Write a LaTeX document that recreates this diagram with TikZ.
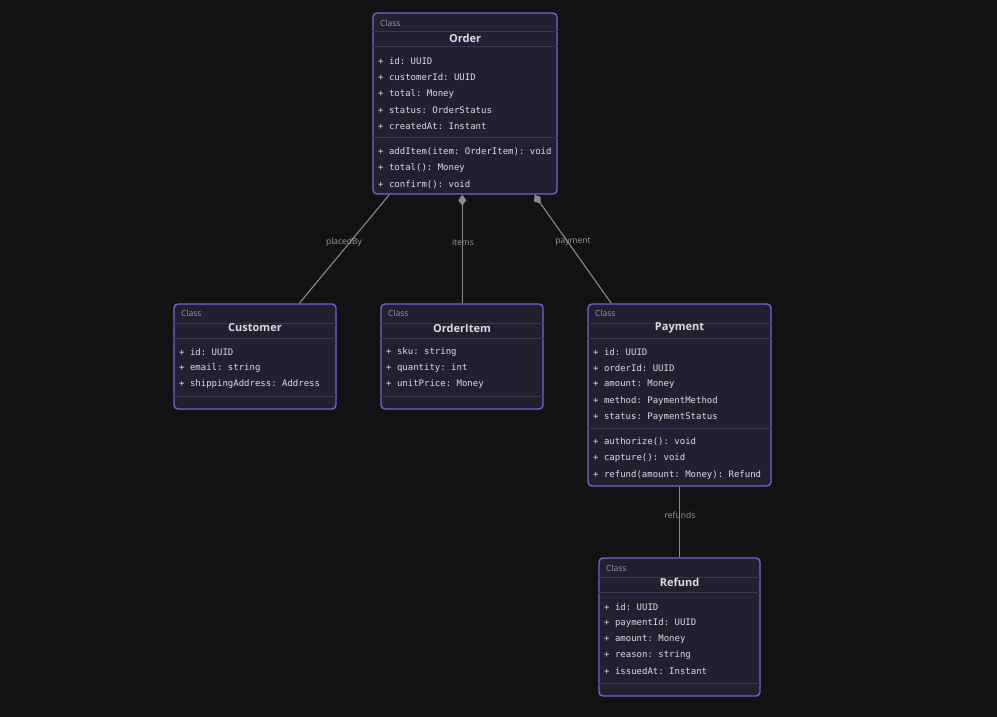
\documentclass[tikz,border=0pt]{standalone}
\usepackage{fontspec}
\setmainfont{Open Sans}
\setmonofont{DejaVu Sans Mono}
\usetikzlibrary{arrows.meta}

\definecolor{bgcol}{HTML}{111214}
\definecolor{boxfill}{HTML}{22202F}
\definecolor{boxline}{HTML}{7B5FD3}
\definecolor{sepcol}{HTML}{3A3552}
\definecolor{txtcol}{HTML}{DCDCE4}
\definecolor{tagcol}{HTML}{9A9AA6}
\definecolor{edgecol}{HTML}{8A8A8A}
\definecolor{lblcol}{HTML}{A09C94}

\tikzset{
  classbox/.style={draw=boxline, fill=boxfill, line width=1.4pt, rounded corners=4pt, inner sep=0pt},
  sepline/.style={draw=sepcol, line width=1pt},
  attr/.style={anchor=west, inner sep=0pt, text=txtcol, font=\ttfamily\fontsize{9}{10}\selectfont},
  headtag/.style={anchor=west, inner sep=0pt, text=tagcol, font=\fontsize{8.5}{10}\selectfont},
  title/.style={inner sep=0pt, text=txtcol, font=\bfseries\fontsize{11}{12}\selectfont},
  assoc/.style={draw=edgecol, line width=1.1pt},
  lbl/.style={inner sep=0pt, text=lblcol, font=\fontsize{8.5}{10}\selectfont},
  comp/.style={{Diamond[length=11pt,width=8pt,fill=edgecol]}-}
}

\begin{document}
\begin{tikzpicture}[x=1pt, y=-1pt]

  % sfondo e margini
  \fill[bgcol] (0,0) rectangle (997,717);
  \useasboundingbox (0,0) rectangle (997,717);

  % Order
  \node[classbox, minimum width=184pt, minimum height=181pt] (order) at (465,103.5) {};
  \foreach \y in {32, 47, 137} {
    \draw[sepline] (order.west |- 0,\y) -- (order.east |- 0,\y);
  }
  \node[headtag] (orderTag) at (380,23) {Class};
  \node[title] (orderName) at (465,38) {Order};
  \foreach \t [count=\i] in {{id: UUID}, {customerId: UUID}, {total: Money}, {status: OrderStatus}, {createdAt: Instant}} {
    \node[attr] (orderA\i) at (378, {61+16.4*(\i-1)}) {+ \t};
  }
  \foreach \t [count=\i] in {{addItem(item: OrderItem): void}, {total(): Money}, {confirm(): void}} {
    \node[attr] (orderM\i) at (378, {152+16.2*(\i-1)}) {+ \t};
  }

  % Customer
  \node[classbox, minimum width=162pt, minimum height=105pt] (customer) at (255,356.5) {};
  \foreach \y in {323, 338, 396} {
    \draw[sepline] (customer.west |- 0,\y) -- (customer.east |- 0,\y);
  }
  \node[headtag] (customerTag) at (181,313) {Class};
  \node[title] (customerName) at (255,328) {Customer};
  \foreach \t [count=\i] in {{id: UUID}, {email: string}, {shippingAddress: Address}} {
    \node[attr] (customerA\i) at (179, {352+16.2*(\i-1)}) {+ \t};
  }

  % OrderItem
  \node[classbox, minimum width=162pt, minimum height=105pt] (orderitem) at (462,356.5) {};
  \foreach \y in {323, 338, 396} {
    \draw[sepline] (orderitem.west |- 0,\y) -- (orderitem.east |- 0,\y);
  }
  \node[headtag] (orderitemTag) at (388,313) {Class};
  \node[title] (orderitemName) at (462,328) {OrderItem};
  \foreach \t [count=\i] in {{sku: string}, {quantity: int}, {unitPrice: Money}} {
    \node[attr] (orderitemA\i) at (386, {352+16.2*(\i-1)}) {+ \t};
  }

  % Payment
  \node[classbox, minimum width=183pt, minimum height=182pt] (payment) at (679.5,395) {};
  \foreach \y in {323, 338, 428} {
    \draw[sepline] (payment.west |- 0,\y) -- (payment.east |- 0,\y);
  }
  \node[headtag] (paymentTag) at (595,313) {Class};
  \node[title] (paymentName) at (679.5,328) {Payment};
  \foreach \t [count=\i] in {{id: UUID}, {orderId: UUID}, {amount: Money}, {method: PaymentMethod}, {status: PaymentStatus}} {
    \node[attr] (paymentA\i) at (593, {352+16.25*(\i-1)}) {+ \t};
  }
  \foreach \t [count=\i] in {{authorize(): void}, {capture(): void}, {refund(amount: Money): Refund}} {
    \node[attr] (paymentM\i) at (593, {442+16.4*(\i-1)}) {+ \t};
  }

  % Refund
  \node[classbox, minimum width=161pt, minimum height=138pt] (refund) at (679.5,627) {};
  \foreach \y in {577, 592, 683} {
    \draw[sepline] (refund.west |- 0,\y) -- (refund.east |- 0,\y);
  }
  \node[headtag] (refundTag) at (606,568) {Class};
  \node[title] (refundName) at (679.5,582) {Refund};
  \foreach \t [count=\i] in {{id: UUID}, {paymentId: UUID}, {amount: Money}, {reason: string}, {issuedAt: Instant}} {
    \node[attr] (refundA\i) at (604, {607+16*(\i-1)}) {+ \t};
  }

  % Relazioni
  \draw[assoc] ([xshift=17pt]order.south west) -- ([xshift=126pt]customer.north west);
  \draw[assoc, comp] ([xshift=90pt]order.south west) -- ([xshift=82pt]orderitem.north west);
  \draw[assoc, comp] ([xshift=162pt]order.south west) -- ([xshift=24pt]payment.north west);
  \draw[assoc] (payment.south) -- (refund.north);

  % Etichette delle relazioni
  \node[lbl] (lblPlaced) at (344,242) {placedBy};
  \node[lbl] (lblItems) at (463,242) {items};
  \node[lbl] (lblPayment) at (573,242) {payment};
  \node[lbl] (lblRefunds) at (680,515) {refunds};

\end{tikzpicture}
\end{document}
